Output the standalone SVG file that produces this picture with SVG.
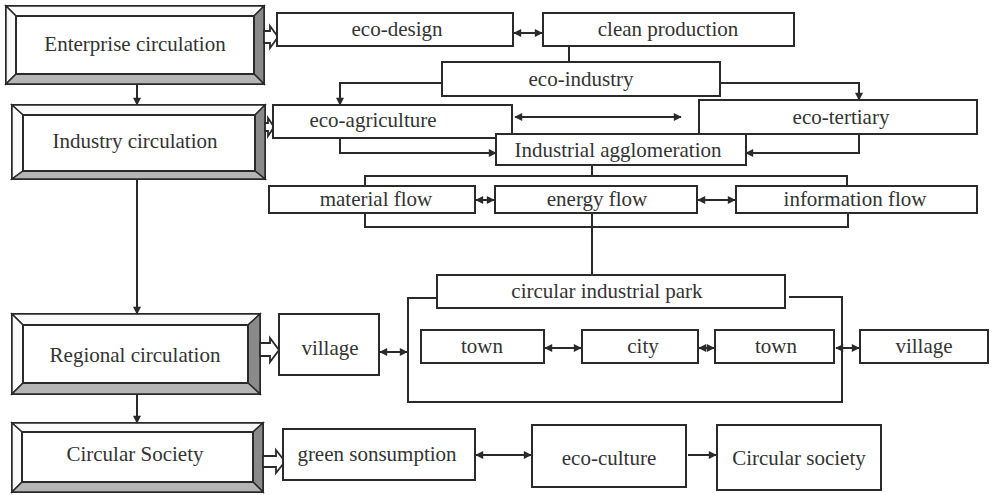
<svg xmlns="http://www.w3.org/2000/svg" width="993" height="495" viewBox="0 0 993 495">
<style>
.box{fill:#fff;stroke:#2a2a2a;stroke-width:2}
.t{font-family:"Liberation Serif","Times New Roman",serif;font-size:21px;fill:#333;text-anchor:middle}
.c{fill:none;stroke:#2a2a2a;stroke-width:2}
.lt{fill:#fafafa;stroke:#2a2a2a;stroke-width:1.5}
.dk{fill:#8a8a8a;stroke:#2a2a2a;stroke-width:1.5}
.md{fill:#b5b5b5;stroke:#2a2a2a;stroke-width:1.5}
.hol{fill:#fff;stroke:#2a2a2a;stroke-width:1.8}
</style>
<defs>
<marker id="ah" viewBox="0 0 10 10" refX="9" refY="5" markerWidth="9" markerHeight="8" markerUnits="userSpaceOnUse" orient="auto-start-reverse">
<path d="M0,0 L10,5 L0,10 Z" fill="#2a2a2a"/>
</marker>
</defs>

<g id="enterprise">
<rect x="6" y="6" width="258" height="78" class="box"/>
<polygon points="6,6 264,6 254,16 16,16" class="lt"/>
<polygon points="6,6 16,16 16,74 6,84" class="lt"/>
<polygon points="264,6 264,84 254,74 254,16" class="dk"/>
<polygon points="6,84 264,84 254,74 16,74" class="md"/>
<rect x="16" y="16" width="238" height="58" class="box"/>
<text x="135" y="51" class="t">Enterprise circulation</text>
<path d="M264,31 H270 V26 L278,37 L270,48 V43 H264 Z" class="hol"/>
</g>

<g id="industry">
<rect x="12" y="105" width="253" height="74" class="box"/>
<polygon points="12,105 265,105 255,115 23,115" class="lt"/>
<polygon points="12,105 23,115 23,171 12,179" class="lt"/>
<polygon points="265,105 265,179 255,171 255,115" class="dk"/>
<polygon points="12,179 265,179 255,171 23,171" class="md"/>
<rect x="23" y="115" width="232" height="56" class="box"/>
<text x="135" y="148" class="t">Industry circulation</text>
<path d="M265,123 H268 V118 L274,127 L268,136 V131 H265 Z" class="hol"/>
</g>

<g id="regional">
<rect x="12" y="314" width="248" height="80" class="box"/>
<polygon points="12,314 260,314 248,325 23,325" class="lt"/>
<polygon points="12,314 23,325 23,383 12,394" class="lt"/>
<polygon points="260,314 260,394 248,383 248,325" class="dk"/>
<polygon points="12,394 260,394 248,383 23,383" class="md"/>
<rect x="23" y="325" width="225" height="58" class="box"/>
<text x="135" y="362" class="t">Regional circulation</text>
<path d="M260,343 H270 V338 L279,350 L270,362 V356 H260 Z" class="hol"/>
</g>

<g id="circular-society-main">
<rect x="12" y="423" width="251" height="69" class="box"/>
<polygon points="12,423 263,423 253,432 22,432" class="lt"/>
<polygon points="12,423 22,432 22,482 12,492" class="lt"/>
<polygon points="263,423 263,492 253,482 253,432" class="dk"/>
<polygon points="12,492 263,492 253,482 22,482" class="md"/>
<rect x="22" y="432" width="231" height="50" class="box"/>
<text x="135" y="461" class="t">Circular Society</text>
<path d="M263,456 H276 V450 L285,461.5 L276,473 V467 H263 Z" class="hol"/>
</g>

<g id="eco-design"><rect x="277" y="13" width="236" height="33" class="box"/><text x="397" y="36" class="t">eco-design</text></g>
<g id="clean-production"><rect x="543" y="13" width="251" height="33" class="box"/><text x="668" y="36" class="t">clean production</text></g>
<g id="eco-industry"><rect x="442" y="62" width="278" height="34" class="box"/><text x="581" y="86" class="t">eco-industry</text></g>
<g id="eco-agriculture"><rect x="273" y="105" width="239" height="33" class="box"/><text x="373" y="127" class="t">eco-agriculture</text></g>
<g id="eco-tertiary"><rect x="699" y="100" width="278" height="34" class="box"/><text x="841" y="124" class="t">eco-tertiary</text></g>
<g id="industrial-agglomeration"><rect x="496" y="134" width="250" height="31" class="box"/><text x="618" y="157" class="t">Industrial agglomeration</text></g>
<g id="material-flow"><rect x="269" y="186" width="206" height="27" class="box"/><text x="376" y="206" class="t">material flow</text></g>
<g id="energy-flow"><rect x="495" y="186" width="202" height="27" class="box"/><text x="597" y="206" class="t">energy flow</text></g>
<g id="information-flow"><rect x="736" y="186" width="241" height="27" class="box"/><text x="855" y="206" class="t">information flow</text></g>
<g id="circular-industrial-park"><rect x="437" y="275" width="348" height="33" class="box"/><text x="607" y="298" class="t">circular industrial park</text></g>
<g id="village-left"><rect x="279" y="314" width="100" height="61" class="box"/><text x="330" y="355" class="t">village</text></g>
<g id="town-left"><rect x="421" y="330" width="123" height="33" class="box"/><text x="482" y="353" class="t">town</text></g>
<g id="city"><rect x="582" y="330" width="116" height="33" class="box"/><text x="643" y="353" class="t">city</text></g>
<g id="town-right"><rect x="715" y="330" width="119" height="33" class="box"/><text x="776" y="353" class="t">town</text></g>
<g id="village-right"><rect x="860" y="330" width="128" height="33" class="box"/><text x="924" y="353" class="t">village</text></g>
<g id="green-consumption"><rect x="283" y="429" width="192" height="51" class="box"/><text x="377" y="461" class="t">green sonsumption</text></g>
<g id="eco-culture"><rect x="532" y="425" width="154" height="62" class="box"/><text x="609" y="465" class="t">eco-culture</text></g>
<g id="circular-society"><rect x="717" y="425" width="164" height="65" class="box"/><text x="799" y="465" class="t">Circular society</text></g>

<g id="connectors">
<path d="M137,84 V105" class="c" marker-end="url(#ah)"/>
<path d="M137,179 V314" class="c" marker-end="url(#ah)"/>
<path d="M137,394 V423" class="c" marker-end="url(#ah)"/>
<path d="M514,33 H542" class="c" marker-start="url(#ah)" marker-end="url(#ah)"/>
<path d="M569,46 V62" class="c"/>
<path d="M442,83 H340 V105" class="c" marker-end="url(#ah)"/>
<path d="M720,83 H859 V100" class="c" marker-end="url(#ah)"/>
<path d="M515,117 H681" class="c" marker-start="url(#ah)" marker-end="url(#ah)"/>
<path d="M340,138 V153 H496" class="c" marker-end="url(#ah)"/>
<path d="M859,134 V153 H746" class="c" marker-end="url(#ah)"/>
<path d="M592,165 V176" class="c"/>
<path d="M365,186 V176 H847 V186" class="c"/>
<path d="M476,200 H494" class="c" marker-start="url(#ah)" marker-end="url(#ah)"/>
<path d="M698,200 H735" class="c" marker-start="url(#ah)" marker-end="url(#ah)"/>
<path d="M365,213 V227 H848 V213" class="c"/>
<path d="M592,213 V275" class="c"/>
<path d="M437,298 H408 V402 H842 V297 H789" class="c"/>
<path d="M380,352 H407" class="c" marker-start="url(#ah)" marker-end="url(#ah)"/>
<path d="M545,348 H581" class="c" marker-start="url(#ah)" marker-end="url(#ah)"/>
<path d="M699,348 H714" class="c" marker-start="url(#ah)" marker-end="url(#ah)"/>
<path d="M836,348 H859" class="c" marker-start="url(#ah)" marker-end="url(#ah)"/>
<path d="M476,455 H531" class="c" marker-start="url(#ah)" marker-end="url(#ah)"/>
<path d="M688,455 H716" class="c" marker-end="url(#ah)"/>
</g>
</svg>
